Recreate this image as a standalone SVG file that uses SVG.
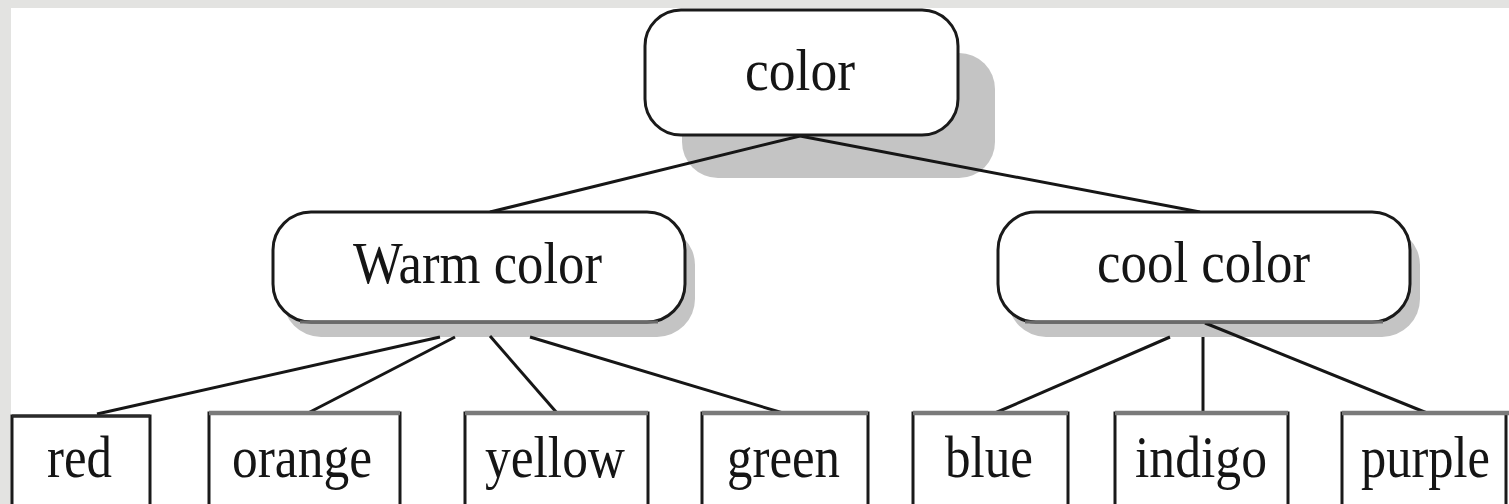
<svg xmlns="http://www.w3.org/2000/svg" width="1509" height="504" viewBox="0 0 1509 504">
<style>
.t{font-family:"Liberation Serif","Times New Roman",serif;font-size:59px;fill:#151515}
.rb{fill:#fff;stroke:#1a1a1a;stroke-width:3}
.sh{fill:#c4c4c4}
.leaf{fill:#fff;stroke:#1a1a1a;stroke-width:3}
.ltop{stroke:#7a7a7a;stroke-width:4.5}
.c{stroke:#161616;stroke-width:3;fill:none}
</style>
<rect x="0" y="0" width="1509" height="504" fill="#ffffff"/>
<rect x="0" y="0" width="1509" height="8" fill="#e3e3e1"/>
<rect x="0" y="0" width="11" height="504" fill="#e3e3e1"/>

<g id="shadows">
<rect class="sh" x="682" y="53" width="313" height="125" rx="36"/>
<rect class="sh" x="283" y="227" width="412" height="110" rx="38"/>
<rect class="sh" x="1008" y="227" width="412" height="110" rx="38"/>
</g>

<g id="connectors">
<line class="c" x1="800" y1="136" x2="490" y2="212"/>
<line class="c" x1="800" y1="136" x2="1200" y2="212"/>
<line class="c" x1="440" y1="337" x2="97" y2="414"/>
<line class="c" x1="455" y1="337" x2="308" y2="413"/>
<line class="c" x1="490" y1="336" x2="557" y2="413" stroke-width="2"/>
<line class="c" x1="530" y1="337" x2="783" y2="413"/>
<line class="c" x1="1170" y1="337" x2="995" y2="413"/>
<line class="c" x1="1203" y1="337" x2="1203" y2="413"/>
<line class="c" x1="1205" y1="323" x2="1427" y2="413"/>
</g>

<g id="node-color">
<rect class="rb" x="645" y="10" width="313" height="125" rx="36"/>
<text class="t" x="745" y="90" textLength="110" lengthAdjust="spacingAndGlyphs">color</text>
</g>

<g id="node-warm">
<rect class="rb" x="273" y="212" width="412" height="110" rx="38"/>
<line x1="300" y1="322" x2="658" y2="322" stroke="#6a6a6a" stroke-width="3"/>
<text class="t" x="353" y="283" textLength="249" lengthAdjust="spacingAndGlyphs">Warm color</text>
</g>

<g id="node-cool">
<rect class="rb" x="998" y="212" width="412" height="110" rx="38"/>
<line x1="1025" y1="322" x2="1383" y2="322" stroke="#6a6a6a" stroke-width="3"/>
<text class="t" x="1097" y="282" textLength="213" lengthAdjust="spacingAndGlyphs">cool color</text>
</g>

<g id="leaf-red">
<rect class="leaf" x="12" y="416" width="138" height="110"/>
<line x1="12" y1="416" x2="150" y2="416" stroke="#2a2a2a" stroke-width="3"/>
<text class="t" x="47" y="477" textLength="65" lengthAdjust="spacingAndGlyphs">red</text>
</g>
<g id="leaf-orange">
<rect class="leaf" x="209" y="413" width="191" height="110"/>
<line class="ltop" x1="209" y1="413" x2="400" y2="413"/>
<text class="t" x="232" y="477" textLength="140" lengthAdjust="spacingAndGlyphs">orange</text>
</g>
<g id="leaf-yellow">
<rect class="leaf" x="465" y="413" width="183" height="110"/>
<line class="ltop" x1="465" y1="413" x2="648" y2="413"/>
<text class="t" x="485" y="477" textLength="140" lengthAdjust="spacingAndGlyphs">yellow</text>
</g>
<g id="leaf-green">
<rect class="leaf" x="702" y="413" width="166" height="110"/>
<line class="ltop" x1="702" y1="413" x2="868" y2="413"/>
<text class="t" x="727" y="477" textLength="113" lengthAdjust="spacingAndGlyphs">green</text>
</g>
<g id="leaf-blue">
<rect class="leaf" x="913" y="413" width="155" height="110"/>
<line class="ltop" x1="913" y1="413" x2="1068" y2="413"/>
<text class="t" x="945" y="477" textLength="88" lengthAdjust="spacingAndGlyphs">blue</text>
</g>
<g id="leaf-indigo">
<rect class="leaf" x="1115" y="413" width="173" height="110"/>
<line class="ltop" x1="1115" y1="413" x2="1288" y2="413"/>
<text class="t" x="1135" y="477" textLength="132" lengthAdjust="spacingAndGlyphs">indigo</text>
</g>
<g id="leaf-purple">
<rect class="leaf" x="1342" y="413" width="164" height="110"/>
<line class="ltop" x1="1342" y1="413" x2="1509" y2="413"/>
<text class="t" x="1361" y="477" textLength="129" lengthAdjust="spacingAndGlyphs">purple</text>
</g>
</svg>
